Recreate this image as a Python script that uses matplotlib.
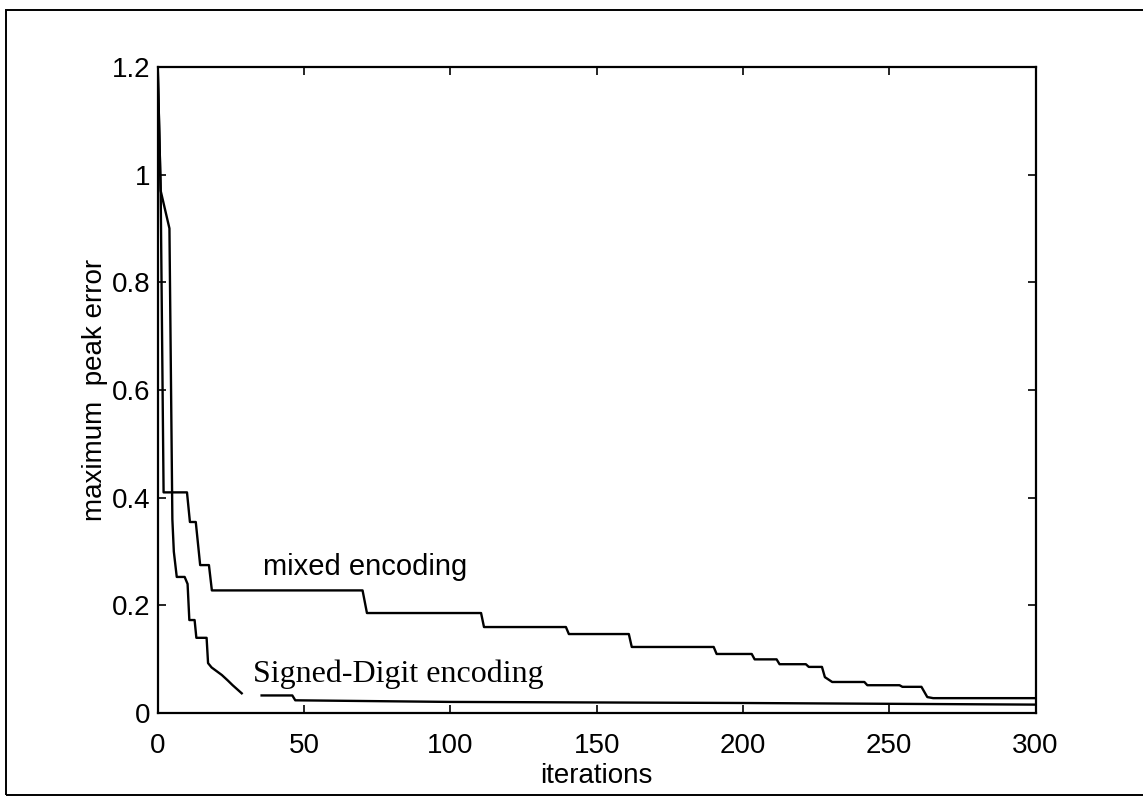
import numpy as np
import matplotlib
matplotlib.use('Agg')
import matplotlib.pyplot as plt
from matplotlib.patches import Rectangle

# values (iteration, maximum peak error)
mixed_iter = [0, 1, 2, 10, 11, 13, 14.5, 17.5, 18.5, 70, 71.5, 110.5, 111.5, 139.5,
              140.5, 161, 162, 190, 191, 203, 204, 211.5, 212.5, 221.5, 222.5,
              227, 228, 230.5, 241.5, 242.5, 253.5, 254.5, 261, 263, 265, 300]
mixed_err = [1.2, 0.97, 0.41, 0.41, 0.355, 0.355, 0.275, 0.275, 0.228, 0.228, 0.186,
             0.186, 0.16, 0.16, 0.147, 0.147, 0.123, 0.123, 0.11, 0.11, 0.10, 0.10,
             0.091, 0.091, 0.086, 0.086, 0.067, 0.058, 0.058, 0.052, 0.052, 0.049,
             0.049, 0.03, 0.028, 0.028]

# gap (nan) where the label covered the curve in the original
sd_iter = [0, 1, 4, 5, 5.5, 6.5, 9.2, 10.2, 10.8, 12.6, 13.2, 16.7, 17.2, 18.4,
           21.9, 23.9, 25.6, 28.7, np.nan, 35.5, 46, 47, 100, 200, 300]
sd_err = [1.2, 0.97, 0.90, 0.36, 0.30, 0.253, 0.253, 0.24, 0.173, 0.173, 0.14, 0.14,
          0.093, 0.085, 0.071, 0.061, 0.052, 0.037, np.nan, 0.033, 0.033, 0.024,
          0.021, 0.019, 0.016]

xticks = [0, 50, 100, 150, 200, 250, 300]
yticks = [0, 0.2, 0.4, 0.6, 0.8, 1.0, 1.2]
ytick_labels = ['0', '0.2', '0.4', '0.6', '0.8', '1', '1.2']

plt.rcParams['font.family'] = ['Liberation Sans', 'DejaVu Sans']

fig = plt.figure(figsize=(11.43, 8.05), dpi=100)
ax = fig.add_axes([0.138, 0.114, 0.768, 0.803])

ax.plot(mixed_iter, mixed_err, color='black', lw=1.7)
ax.plot(sd_iter, sd_err, color='black', lw=1.7)

ax.set_xlim(0, 300)
ax.set_ylim(0, 1.2)
ax.set_xticks(xticks)
ax.set_yticks(yticks)
ax.set_yticklabels(ytick_labels)
ax.tick_params(direction='in', top=True, right=True, length=6, width=1.2,
               labelsize=20)
ax.tick_params(axis='x', pad=14)
ax.tick_params(axis='y', pad=5)
for s in ax.spines.values():
    s.set_linewidth(1.6)

ax.set_xlabel('iterations', fontsize=20, labelpad=3)
ax.set_ylabel('maximum  peak error', fontsize=20, labelpad=3)

ax.text(35.9, 0.256, 'mixed encoding', fontsize=21, va='baseline', ha='left')
ax.text(32.5, 0.058, 'Signed-Digit encoding', fontsize=23, va='baseline', ha='left',
        family=['Liberation Serif', 'DejaVu Serif'])

# outer frame of the scanned figure
fig.patches.append(Rectangle((0.005, 0.012), 1.2, 0.975, transform=fig.transFigure,
                             fill=False, edgecolor='black', lw=1.4))

fig.savefig('out.png', dpi=100)
